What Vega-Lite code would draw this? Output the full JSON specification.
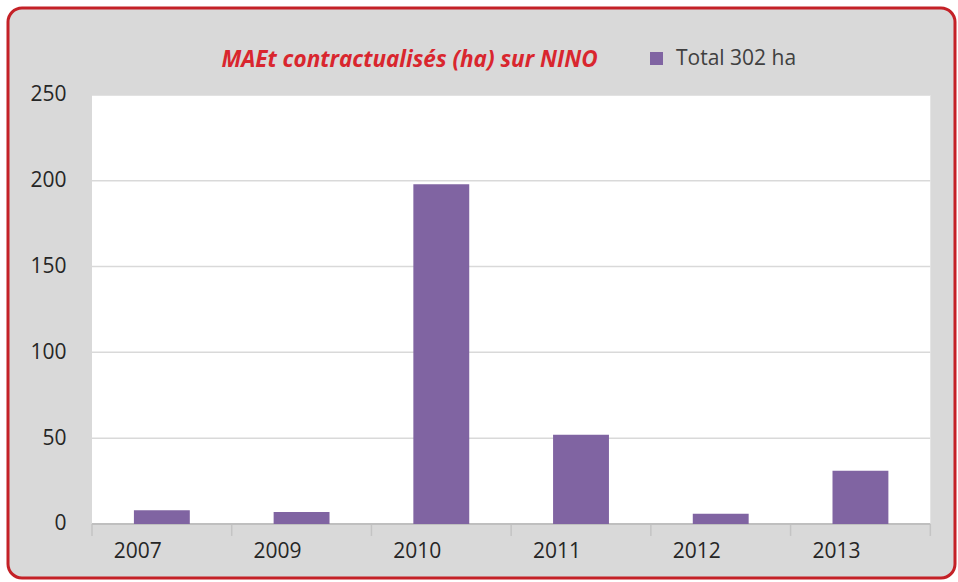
{
  "$schema": "https://vega.github.io/schema/vega-lite/v6.json",
  "width": 947,
  "height": 570,
  "autosize": {"type": "none"},
  "padding": {"left": 8, "top": 8, "right": 3, "bottom": 4},
  "background": "white",
  "config": {
    "view": {"fill": "#d9d9d9", "stroke": "#c42127", "strokeWidth": 3, "cornerRadius": 14},
    "font": "Open Sans"
  },
  "title": {
    "text": "MAEt contractualisés (ha) sur NINO",
    "color": "#d9262e",
    "fontStyle": "italic",
    "fontWeight": "bold",
    "fontSize": 22.5,
    "font": "Open Sans",
    "anchor": "middle",
    "frame": "group",
    "offset": -63,
    "dx": -72
  },
  "data": {
    "values": [
      {"year": "2007", "ha": 8},
      {"year": "2009", "ha": 7},
      {"year": "2010", "ha": 198},
      {"year": "2011", "ha": 52},
      {"year": "2012", "ha": 6},
      {"year": "2013", "ha": 31}
    ]
  },
  "layer": [
    {
      "data": {"values": [{"area": "plot"}]},
      "mark": {"type": "rect", "color": "white"},
      "encoding": {
        "x": {"datum": "2007", "type": "nominal", "bandPosition": -0.75},
        "x2": {"datum": "2013", "bandPosition": 1.75},
        "y": {"datum": 0, "type": "quantitative"},
        "y2": {"datum": 250}
      }
    },
    {
      "data": {"values": [{"g": 50}, {"g": 100}, {"g": 150}, {"g": 200}, {"g": 250}]},
      "mark": {"type": "rule", "color": "#d9d9d9", "strokeWidth": 1.5},
      "encoding": {
        "x": {"datum": "2007", "type": "nominal", "bandPosition": -0.75},
        "x2": {"datum": "2013", "bandPosition": 1.75},
        "y": {"field": "g", "type": "quantitative"}
      }
    },
    {
      "mark": {"type": "rule", "color": "#c4c4c4", "strokeWidth": 1.5},
      "encoding": {
        "x": {"field": "year", "type": "nominal", "bandPosition": -0.75},
        "y": {"datum": 0, "type": "quantitative"},
        "y2": {"datum": -7}
      }
    },
    {
      "data": {"values": [{"year": "2013"}]},
      "mark": {"type": "rule", "color": "#c4c4c4", "strokeWidth": 1.5},
      "encoding": {
        "x": {"field": "year", "type": "nominal", "bandPosition": 1.75},
        "y": {"datum": 0, "type": "quantitative"},
        "y2": {"datum": -7}
      }
    },
    {
      "data": {"values": [{"g": 0}]},
      "mark": {"type": "rule", "color": "#bfbfbf", "strokeWidth": 2},
      "encoding": {
        "x": {"datum": "2007", "type": "nominal", "bandPosition": -0.75},
        "x2": {"datum": "2013", "bandPosition": 1.75},
        "y": {"field": "g", "type": "quantitative"}
      }
    },
    {
      "mark": {"type": "bar", "color": "#8064a2"},
      "encoding": {
        "x": {
          "field": "year",
          "type": "nominal",
          "scale": {
            "domain": ["2007", "2009", "2010", "2011", "2012", "2013"],
            "paddingInner": 0.6,
            "paddingOuter": 0.689,
            "align": 0.654
          },
          "axis": {
            "title": null,
            "labelAngle": 0,
            "domain": false,
            "ticks": false,
            "grid": false,
            "offset": -54,
            "labelPadding": 27,
            "labelFontSize": 21,
            "labelColor": "#262626",
            "labelFont": "Open Sans"
          }
        },
        "y": {
          "field": "ha",
          "type": "quantitative",
          "scale": {"domain": [-31.5, 300.7], "nice": false, "zero": false},
          "axis": {
            "title": null,
            "values": [0, 50, 100, 150, 200, 250],
            "grid": false,
            "domain": false,
            "ticks": false,
            "offset": -84,
            "labelPadding": 26,
            "labelFontSize": 21,
            "labelColor": "#262626",
            "labelFont": "Open Sans"
          }
        },
        "color": {
          "datum": "Total 302 ha",
          "scale": {"range": ["#8064a2"]},
          "legend": {
            "title": null,
            "orient": "none",
            "legendX": 638,
            "legendY": 40,
            "symbolType": "square",
            "symbolSize": 169,
            "labelOffset": 9,
            "labelFontSize": 21,
            "labelColor": "#404040",
            "labelFont": "Open Sans"
          }
        }
      }
    }
  ]
}
